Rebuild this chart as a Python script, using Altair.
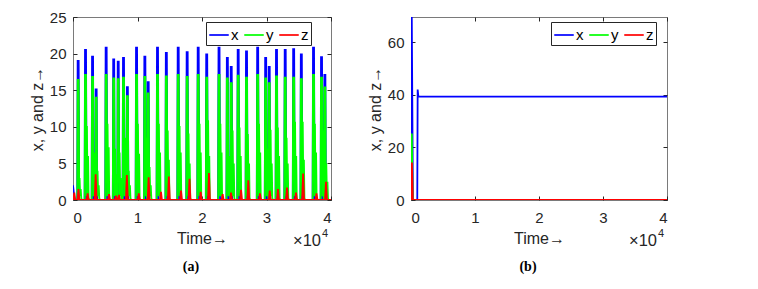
import altair as alt
import pandas as pd

# ---------------- data: panel (a) ----------------
ev_t = [720, 1860, 2950, 3510, 5060, 6230, 6930, 7750, 8350, 9770, 11060, 11580,
        13020, 14390, 16230, 17620, 19330, 20650, 22560, 23850, 24450, 25530,
        26820, 28550, 29790, 30340, 31470, 32820, 34130, 35320, 37210, 38450, 38970]
x_pk = [19.0, 20.5, 19.6, 15.1, 20.8, 19.2, 18.9, 19.4, 15.4, 20.8, 19.6, 16.1,
        20.8, 20.1, 20.8, 20.2, 20.8, 19.9, 20.8, 19.4, 18.2, 20.5, 20.3,
        20.8, 19.4, 18.2, 20.5, 20.5, 20.6, 19.9, 20.8, 19.5, 17.1]
y_pk = [16.4, 17.1, 16.8, 14.1, 17.1, 16.6, 16.5, 16.7, 14.3, 17.1, 16.8, 14.7,
        17.1, 16.9, 17.1, 16.8, 17.1, 16.7, 17.1, 16.6, 16.1, 17.0, 16.7,
        17.1, 16.6, 16.1, 16.9, 16.7, 16.7, 16.5, 17.1, 16.7, 15.5]
y_2nd = [3.0, 10.1, 6.5, 4.0, 10.4, 7.0, 6.5, 8.5, 4.0, 10.4, 8.5, 4.5,
         10.4, 9.5, 10.1, 9.1, 10.4, 10.9, 10.4, 6.0, 9.5, 9.9, 9.0,
         10.4, 7.0, 9.6, 9.9, 8.5, 10.7, 10.7, 10.4, 9.5, 5.0]
y_3rd = [1.5, 6.0, 3.5, 2.0, 7.2, 3.5, 3.0, 4.0, 2.0, 6.3, 4.0, 2.0,
         6.5, 5.5, 6.5, 5.0, 6.5, 6.0, 6.5, 3.0, 5.0, 6.0, 5.0,
         6.5, 3.5, 5.0, 6.0, 5.0, 6.0, 5.5, 6.5, 5.0, 2.5]
z_t = [200, 850, 2270, 3510, 5580, 6670, 7130, 8350, 10200, 11730, 13640, 14860,
       16740, 18060, 19800, 21080, 23200, 24500, 26050, 27180, 28990, 30500,
       31780, 33180, 34570, 35680, 37750, 39220]
z_pk = [1.0, 1.5, 0.9, 3.5, 0.8, 0.6, 0.7, 3.4, 0.9, 3.1, 1.1, 3.2,
        1.3, 2.9, 1.1, 3.7, 0.8, 1.0, 1.4, 2.7, 0.9, 1.3,
        1.5, 1.7, 1.0, 3.6, 0.9, 2.5]

# ---------------- data: panel (b) ----------------
b_tx = [0, 60, 120, 300, 980, 1040, 1150, 40000]
b_x = [2.0, 1.0, 69.6, 0.0, 0.0, 42.0, 39.3, 39.3]
b_ty = [0, 60, 120, 260, 40000]
b_y = [0.5, 0.3, 25.3, 0.0, 0.0]
b_tz = [0, 80, 140, 280, 40000]
b_z = [0.2, 0.1, 14.3, 0.0, 0.0]

series = ["x", "y", "z"]
colors = ["#0000ff", "#00ff00", "#ff0000"]
x_ticks = [0, 10000, 20000, 30000, 40000]
ya_ticks = [0, 5, 10, 15, 20, 25]
yb_ticks = [0, 20, 40, 60]
captions = ["(a)", "(b)"]
x10 = ["\u00d710"]
exp4 = ["4"]

FONT = "Liberation Sans"
TXT = "#262626"


def build_a():
    rows = [("x", 0, 2.0), ("x", 250, 0.0), ("y", 0, 0.3), ("y", 250, 0.0), ("z", 0, 0.0)]
    for t, xp, yp, y2, y3 in zip(ev_t, x_pk, y_pk, y_2nd, y_3rd):
        rows += [("x", t - 60, 0.0), ("x", t, xp), ("x", t + 160, xp), ("x", t + 240, 0.0)]
        rows += [("y", t - 60, 0.0), ("y", t, yp), ("y", t + 160, yp), ("y", t + 240, 0.5),
                 ("y", t + 300, y2), ("y", t + 400, 0.5), ("y", t + 480, y3),
                 ("y", t + 560, 0.3), ("y", t + 640, 0.0)]
    for t, zp in zip(z_t, z_pk):
        rows += [("z", t - 150, 0.0), ("z", t, zp), ("z", t + 150, 0.0)]
    rows += [("x", 40000, 0.0), ("y", 40000, 0.0), ("z", 40000, 0.0)]
    return pd.DataFrame(rows, columns=["var", "t", "v"])


def build_b():
    rows = [("x", t, v) for t, v in zip(b_tx, b_x)]
    rows += [("y", t, v) for t, v in zip(b_ty, b_y)]
    rows += [("z", t, v) for t, v in zip(b_tz, b_z)]
    return pd.DataFrame(rows, columns=["var", "t", "v"])


cscale = alt.Scale(domain=series, range=colors)


def panel(df, w, ydom, yticks, legx, caption):
    xs = alt.Scale(domain=[0, 40000], nice=False, zero=False)
    ys = alt.Scale(domain=ydom, nice=False, zero=False)
    leg = alt.Legend(orient="none", legendX=legx, legendY=5, direction="horizontal",
                     symbolType="stroke", symbolSize=380, symbolStrokeWidth=1.7,
                     labelFontSize=15, labelFont=FONT, labelColor="#000000",
                     title=None, strokeColor="#262626", fillColor="white",
                     padding=2, columnPadding=1, labelOffset=1)
    lab_x = alt.Axis(values=x_ticks, labelExpr="datum.value / 10000", ticks=False, tickSize=0,
                     domain=False, grid=False, labelPadding=10, title="Time\u2192", titlePadding=5)
    lab_y = alt.Axis(values=yticks, ticks=False, tickSize=0, domain=False, grid=False,
                     labelPadding=7, title="x, y and z\u2192", titlePadding=4)
    layers = []
    for i, s in enumerate(series):
        layers.append(
            alt.Chart(df).transform_filter(alt.datum["var"] == s)
            .mark_line(strokeWidth=1.8, clip=True)
            .encode(
                x=alt.X("t:Q", scale=xs, axis=lab_x if i == 0 else None),
                y=alt.Y("v:Q", scale=ys, axis=lab_y if i == 0 else None),
                color=alt.Color("var:N", scale=cscale, legend=leg),
            )
        )
    tick_common = dict(ticks=True, tickSize=4, tickColor=TXT, tickWidth=1,
                       labels=False, domain=False, grid=False, title=None)
    for ox, oy in (("bottom", "left"), ("top", "right")):
        layers.append(
            alt.Chart(df).mark_point(opacity=0).encode(
                x=alt.X("t:Q", scale=xs, axis=alt.Axis(orient=ox, offset=-4, values=x_ticks, **tick_common)),
                y=alt.Y("v:Q", scale=ys, axis=alt.Axis(orient=oy, offset=-4, values=yticks, **tick_common)),
            )
        )
    layers.append(
        alt.Chart(pd.DataFrame({"s": x10})).mark_text(align="left", baseline="alphabetic",
                                                       fontSize=16.5, font=FONT, color=TXT)
        .encode(x=alt.value(w - 38), y=alt.value(228.5), text="s:N")
    )
    layers.append(
        alt.Chart(pd.DataFrame({"s": exp4})).mark_text(align="left", baseline="alphabetic",
                                                        fontSize=11, font=FONT, color=TXT)
        .encode(x=alt.value(w - 9), y=alt.value(220), text="s:N")
    )
    layers.append(
        alt.Chart(pd.DataFrame({"s": [caption]})).mark_text(align="center", baseline="middle",
                                                             fontSize=14, font="Liberation Serif",
                                                             fontWeight="bold", color="#000000")
        .encode(x=alt.value(w / 2 - 11), y=alt.value(250), text="s:N")
    )
    return alt.layer(*layers).resolve_axis(x="independent", y="independent").properties(
        width=w, height=183)


pa = panel(build_a(), 258, [0, 25], ya_ticks, 133, captions[0])
pb = panel(build_b(), 256, [0, 69.6], yb_ticks, 140, captions[1])

chart = (
    alt.hconcat(pa, pb, spacing=31)
    .resolve_legend(color="independent")
    .resolve_scale(color="independent")
    .properties(padding={"left": 20, "top": 1, "right": 5, "bottom": 5})
    .configure_view(stroke="#7a7a7a", strokeWidth=1)
    .configure_axis(labelFont=FONT, labelFontSize=15, labelColor=TXT,
                    titleFont=FONT, titleFontSize=16, titleFontWeight="normal", titleColor=TXT)
)

chart.save("out.html", embed_options={"renderer": "svg", "actions": False})
